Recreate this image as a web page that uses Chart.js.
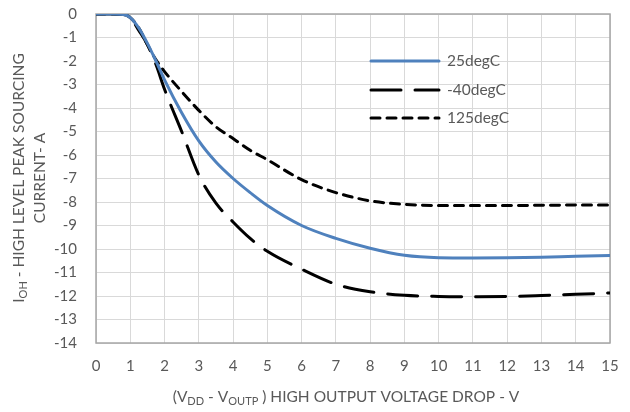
<!DOCTYPE html>
<html>
<head>
<meta charset="utf-8">
<script src="https://cdn.jsdelivr.net/npm/chart.js"></script>
<style>
  html, body { margin: 0; padding: 0; background: #fff; }
  #wrap { width: 630px; height: 412px; }
</style>
</head>
<body>
<div id="wrap"><canvas id="c" width="630" height="412"></canvas></div>
<script>
// voltage drop (V)
const vDrop = [0, 0.5, 0.8, 1, 1.25, 1.5, 1.75, 2, 2.5, 3, 3.5, 4, 4.5, 5, 6, 7, 8, 9, 10, 11, 12, 13, 14, 15];
// peak sourcing current (A)
const i25 = [0, 0, -0.02, -0.15, -0.6, -1.25, -2.0, -2.8, -4.2, -5.4, -6.3, -7.0, -7.6, -8.15, -9.0, -9.55, -9.97, -10.27, -10.37, -10.38, -10.37, -10.35, -10.31, -10.28];
const iM40 = [0, 0, -0.02, -0.15, -0.7, -1.3, -2.15, -3.2, -5.0, -6.85, -8.05, -8.85, -9.55, -10.1, -10.86, -11.5, -11.82, -11.97, -12.02, -12.03, -12.02, -11.98, -11.93, -11.87];
const i125 = [0, 0, -0.02, -0.15, -0.6, -1.3, -1.95, -2.45, -3.3, -4.1, -4.8, -5.3, -5.8, -6.2, -7.05, -7.6, -7.95, -8.1, -8.15, -8.15, -8.15, -8.14, -8.13, -8.13];
const seriesNames = ["25degC", "-40degC", "125degC"];
const xTicks = [0, 15, 1];   // min, max, step
const yTicks = [-14, 0, 1];

const FONT = "Lato, 'Open Sans', sans-serif";
const TXT = "#595959";

const pts = arr => arr.map((v, i) => ({ x: vDrop[i], y: v }));

const styles = [
  { color: "#4f81bd", dash: [] },
  { color: "#000000", dash: [30, 14] },
  { color: "#000000", dash: [9, 7] }
];

// rich text with subscripts
function drawRich(ctx, parts, x, y, size) {
  const sub = Math.round(size * 0.68);
  let w = 0;
  parts.forEach(p => {
    ctx.font = (p.sub ? sub : size) + "px " + FONT;
    p.w = ctx.measureText(p.t).width;
    w += p.w;
  });
  let cx = x - w / 2;
  ctx.textAlign = "left";
  ctx.textBaseline = "middle";
  parts.forEach(p => {
    ctx.font = (p.sub ? sub : size) + "px " + FONT;
    ctx.fillText(p.t, cx, y + (p.sub ? 4 : 0));
    cx += p.w;
  });
}

const extras = {
  id: "extras",
  beforeDatasetsDraw(chart) {
    const { ctx, chartArea: a } = chart;
    ctx.save();
    ctx.strokeStyle = "#a6a6a6";
    ctx.lineWidth = 1.5;
    ctx.strokeRect(a.left, a.top, a.right - a.left, a.bottom - a.top);
    ctx.restore();
  },
  afterDraw(chart) {
    const { ctx } = chart;
    ctx.save();
    ctx.fillStyle = TXT;
    // x title
    drawRich(ctx, [
      { t: "(V" }, { t: "DD", sub: true }, { t: " - V" }, { t: "OUTP", sub: true },
      { t: " ) HIGH OUTPUT VOLTAGE DROP - V" }
    ], 346, 397, 15.5);
    // y title
    ctx.save();
    ctx.translate(19, 178);
    ctx.rotate(-Math.PI / 2);
    drawRich(ctx, [{ t: "I" }, { t: "OH", sub: true }, { t: " - HIGH LEVEL PEAK SOURCING" }], 0, 0, 15.5);
    ctx.restore();
    ctx.save();
    ctx.translate(40, 178);
    ctx.rotate(-Math.PI / 2);
    drawRich(ctx, [{ t: "CURRENT- A" }], 0, 0, 15.5);
    ctx.restore();
    // legend
    const rows = [61, 90, 118];
    seriesNames.forEach((name, i) => {
      ctx.strokeStyle = styles[i].color;
      ctx.lineWidth = 3;
      ctx.lineCap = "round";
      ctx.setLineDash(styles[i].dash);
      ctx.beginPath();
      ctx.moveTo(371, rows[i]);
      ctx.lineTo(439, rows[i]);
      ctx.stroke();
      ctx.setLineDash([]);
      ctx.fillStyle = TXT;
      ctx.font = "15.5px " + FONT;
      ctx.textAlign = "left";
      ctx.textBaseline = "middle";
      ctx.fillText(name, 447, rows[i]);
    });
    ctx.restore();
  }
};

new Chart(document.getElementById("c"), {
  type: "line",
  data: {
    datasets: [i25, iM40, i125].map((arr, i) => ({
      label: seriesNames[i],
      data: pts(arr),
      borderColor: styles[i].color,
      borderDash: styles[i].dash,
      borderWidth: 3,
      borderCapStyle: "round",
      pointRadius: 0,
      fill: false,
      cubicInterpolationMode: "monotone"
    }))
  },
  options: {
    responsive: false,
    animation: false,
    layout: { padding: { top: 14, right: 20, left: 0, bottom: 0 } },
    plugins: { legend: { display: false }, tooltip: { enabled: false } },
    scales: {
      x: {
        type: "linear",
        min: xTicks[0], max: xTicks[1],
        ticks: { stepSize: xTicks[2], color: TXT, font: { family: FONT, size: 15 }, padding: 14, maxRotation: 0 },
        grid: { color: "#d9d9d9", drawTicks: false },
        border: { display: false },
        afterFit(s) { s.height = 69; s.paddingLeft = 0; s.paddingRight = 0; }
      },
      y: {
        type: "linear",
        min: yTicks[0], max: yTicks[1],
        ticks: { stepSize: yTicks[2], color: TXT, font: { family: FONT, size: 15 }, padding: 19 },
        grid: { color: "#d9d9d9", drawTicks: false },
        border: { display: false },
        afterFit(s) { s.width = 96; s.paddingTop = 0; s.paddingBottom = 0; }
      }
    }
  },
  plugins: [extras]
});
</script>
</body>
</html>
